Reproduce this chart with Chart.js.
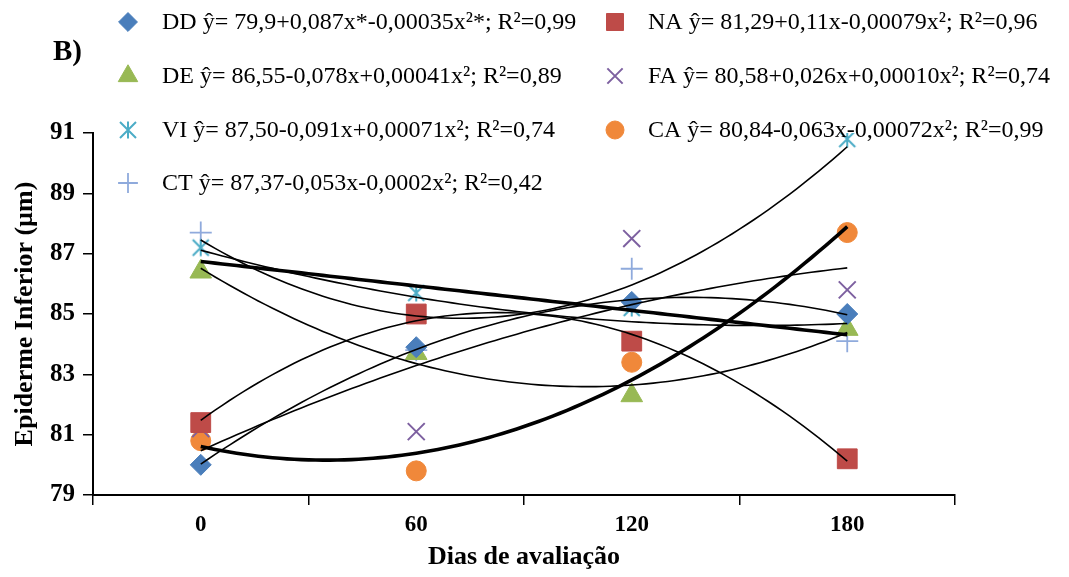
<!DOCTYPE html>
<html>
<head>
<meta charset="utf-8">
<script src="https://cdn.jsdelivr.net/npm/chart.js@4/dist/chart.umd.min.js"></script>
<style>
  html, body { margin: 0; padding: 0; background: #ffffff; }
  canvas { display: block; }
</style>
</head>
<body>
<canvas id="chart" width="1069" height="577"></canvas>
<script>
// Sampling days (x) and category boundaries used for the axis tick marks
const days = [0, 60, 120, 180];
const dayBounds = [-30, 30, 90, 150, 210];
const yTickValues = [79, 81, 83, 85, 87, 89, 91];

// Lower epidermis thickness (µm) per treatment
const dd = [80.0, 83.9, 85.4, 85.0];
const na = [81.4, 85.0, 84.1, 80.2];
const de = [86.4, 83.7, 82.3, 84.5];
const fa = [81.2, 81.1, 87.5, 85.8];
const vi = [87.2, 85.7, 85.2, 90.8];
const ca = [80.8, 79.8, 83.4, 87.7];
const ct = [87.7, 83.8, 86.5, 84.1];

// Legend texts (fitted equations)
const equations = [
  'DD ŷ= 79,9+0,087x*-0,00035x²*; R²=0,99',
  'NA ŷ= 81,29+0,11x-0,00079x²; R²=0,96',
  'DE ŷ= 86,55-0,078x+0,00041x²; R²=0,89',
  'FA ŷ= 80,58+0,026x+0,00010x²; R²=0,74',
  'VI ŷ= 87,50-0,091x+0,00071x²; R²=0,74',
  'CA ŷ= 80,84-0,063x-0,00072x²; R²=0,99',
  'CT ŷ= 87,37-0,053x-0,0002x²; R²=0,42'
];

// Six-armed asterisk marker (X plus vertical bar)
function asteriskMarker(color, half, lw) {
  const size = Math.ceil(2 * half + 2 * lw);
  const cv = document.createElement('canvas');
  cv.width = size; cv.height = size;
  const g = cv.getContext('2d');
  const c = size / 2;
  g.strokeStyle = color; g.lineWidth = lw;
  g.beginPath();
  g.moveTo(c - half, c - half); g.lineTo(c + half, c + half);
  g.moveTo(c + half, c - half); g.lineTo(c - half, c + half);
  g.moveTo(c, c - half * 1.05); g.lineTo(c, c + half * 1.05);
  g.stroke();
  return cv;
}

const series = [
  { values: dd, color: '#4A7EBB', style: 'rectRot',  radius: 10.5, bw: 1 },
  { values: na, color: '#BE4B48', style: 'rect',     radius: 14,   bw: 1 },
  { values: de, color: '#98B954', style: 'triangle', radius: 12.5, bw: 1 },
  { values: fa, color: '#7D60A0', style: 'crossRot', radius: 12,   bw: 2 },
  { values: vi, color: '#4BACC6', style: asteriskMarker('#4BACC6', 8, 2), radius: 10, bw: 2 },
  { values: ca, color: '#F0883A', style: 'circle',   radius: 10,   bw: 1 },
  { values: ct, color: '#8FAADC', style: 'cross',    radius: 11,   bw: 1.8 }
];

// Least-squares polynomial trendline coefficients (c0 + c1 x + c2 x² ...)
function polyFit(xs, ys, degree) {
  const n = degree + 1;
  const A = Array.from({ length: n }, () => new Array(n + 1).fill(0));
  for (let k = 0; k < xs.length; k++) {
    for (let i = 0; i < n; i++) {
      for (let j = 0; j < n; j++) A[i][j] += Math.pow(xs[k], i + j);
      A[i][n] += ys[k] * Math.pow(xs[k], i);
    }
  }
  for (let i = 0; i < n; i++) {
    let p = i;
    for (let r = i + 1; r < n; r++) if (Math.abs(A[r][i]) > Math.abs(A[p][i])) p = r;
    [A[i], A[p]] = [A[p], A[i]];
    for (let r = 0; r < n; r++) {
      if (r === i) continue;
      const f = A[r][i] / A[i][i];
      for (let c = i; c <= n; c++) A[r][c] -= f * A[i][c];
    }
  }
  return A.map((row, i) => row[n] / row[i]);
}

function trendline(values, degree) {
  const coef = polyFit(days, values, degree);
  const pts = [];
  for (let x = days[0]; x <= days[days.length - 1]; x += 2) {
    let y = 0;
    coef.forEach((c, i) => { y += c * Math.pow(x, i); });
    pts.push({ x: x, y: y });
  }
  return pts;
}

const datasets = [];
// fitted curves, drawn above the markers
series.forEach((s) => {
  datasets.push({
    type: 'line',
    data: trendline(s.values, 2),
    borderColor: '#000000',
    borderWidth: s.values === ca ? 3.6 : 1.6,
    pointRadius: 0,
    tension: 0,
    fill: false,
    order: 0
  });
});
datasets.push({
  type: 'line',
  data: trendline(ct, 1),
  borderColor: '#000000',
  borderWidth: 3.6,
  pointRadius: 0,
  tension: 0,
  fill: false,
  order: 0
});
// observed means
series.forEach((s) => {
  datasets.push({
    type: 'scatter',
    data: days.map((d, i) => ({ x: d, y: s.values[i] })),
    pointStyle: s.style,
    pointRadius: s.radius,
    pointHoverRadius: s.radius,
    pointBackgroundColor: s.color,
    pointBorderColor: s.color,
    pointBorderWidth: s.bw,
    showLine: false,
    order: 1
  });
});

const SERIF = '"Liberation Serif", "Times New Roman", serif';

// Equation legend in two columns plus the panel letter
const legendRows = [22, 76, 130, 183];
const legendCols = [{ marker: 128, text: 162 }, { marker: 615, text: 648 }];
const equationLegend = {
  id: 'equationLegend',
  afterDraw(chart) {
    const ctx = chart.ctx;
    ctx.save();
    ctx.fillStyle = '#000';
    ctx.font = 'bold 29px ' + SERIF;
    ctx.textBaseline = 'middle';
    ctx.textAlign = 'left';
    ctx.fillText('B)', 53, 53);

    series.forEach((s, i) => {
      const col = legendCols[i % 2];
      const y = legendRows[Math.floor(i / 2)];
      ctx.save();
      ctx.fillStyle = s.color;
      ctx.strokeStyle = s.color;
      ctx.lineWidth = s.bw;
      const opts = { pointStyle: s.style, radius: s.style === 'rect' ? 12 : s.radius * 0.9, rotation: 0, borderWidth: s.bw };
      Chart.helpers.drawPoint(ctx, opts, col.marker, y);
      ctx.restore();
      ctx.fillStyle = '#000';
      ctx.font = '24px ' + SERIF;
      ctx.textBaseline = 'middle';
      ctx.fillText(equations[i], col.text, y + 1);
    });
    ctx.restore();
  }
};

new Chart(document.getElementById('chart'), {
  data: { datasets: datasets },
  options: {
    responsive: false,
    animation: false,
    events: [],
    layout: { padding: { top: 133, right: 114, bottom: 0, left: 0 } },
    plugins: { legend: { display: false }, tooltip: { enabled: false } },
    scales: {
      x: {
        type: 'linear',
        position: 'bottom',
        min: dayBounds[0],
        max: dayBounds[dayBounds.length - 1],
        afterBuildTicks(scale) {
          const vals = dayBounds.concat(days).sort((a, b) => a - b);
          scale.ticks = vals.map(v => ({ value: v }));
        },
        afterFit(scale) { scale.height = 82; },
        ticks: {
          autoSkip: false,
          maxRotation: 0,
          padding: 6,
          color: '#000',
          font: { family: SERIF, size: 23, weight: 'bold' },
          callback: (v) => (days.includes(v) ? String(v) : '')
        },
        grid: {
          drawOnChartArea: false,
          drawTicks: true,
          tickLength: 10,
          lineWidth: 1.5,
          color: (ctx) => (ctx.tick && days.includes(ctx.tick.value) ? 'rgba(0,0,0,0)' : '#000')
        },
        border: { display: true, color: '#000', width: 2 },
        title: {
          display: true,
          text: 'Dias de avaliação',
          color: '#000',
          font: { family: SERIF, size: 26, weight: 'bold' },
          padding: { top: 0, bottom: 4 }
        }
      },
      y: {
        type: 'linear',
        min: yTickValues[0],
        max: yTickValues[yTickValues.length - 1],
        afterBuildTicks(scale) { scale.ticks = yTickValues.map(v => ({ value: v })); },
        afterFit(scale) { scale.width = 93; },
        ticks: {
          padding: 8,
          color: '#000',
          font: { family: SERIF, size: 25, weight: 'bold' }
        },
        grid: {
          drawOnChartArea: false,
          drawTicks: true,
          tickLength: 10,
          lineWidth: 1.5,
          color: '#000'
        },
        border: { display: true, color: '#000', width: 2 },
        title: {
          display: true,
          text: 'Epiderme Inferior (µm)',
          color: '#000',
          font: { family: SERIF, size: 26, weight: 'bold' },
          padding: { top: 10, bottom: 0 }
        }
      }
    }
  },
  plugins: [equationLegend]
});
</script>
</body>
</html>
